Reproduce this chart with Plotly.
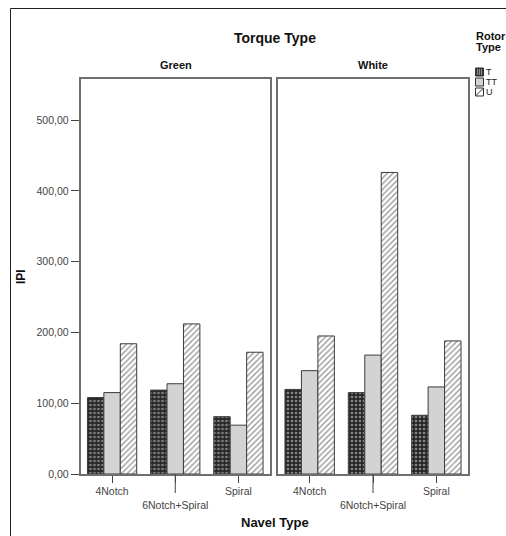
import plotly.graph_objects as go

# ---- data ----
navel_types = ["4Notch", "6Notch+Spiral", "Spiral"]
navel_labels = ["4Notch", "<br>6Notch+Spiral", "Spiral"]
panels = ["Green", "White"]
rotor_types = ["T", "TT", "U"]

green_T = [108, 118.5, 81]
green_TT = [115, 127.5, 69]
green_U = [184, 212, 172]

white_T = [119.5, 115, 83]
white_TT = [146, 168, 123]
white_U = [195, 426, 188]

y_tickvals = [0, 100, 200, 300, 400, 500]
y_ticktext = ["0,00", "100,00", "200,00", "300,00", "400,00", "500,00"]

W, H = 506, 536
def px(x):
    return x / W
def py(y):
    return 1 - y / H

FONT = "Liberation Sans, Arial, sans-serif"
LINE = "#3c3c3c"

styles = {
    "T": dict(color="#262626",
              pattern=dict(shape=".", fgcolor="#e4e4e4", bgcolor="#262626",
                           size=4, solidity=0.35)),
    "TT": dict(color="#d3d3d3"),
    "U": dict(color="white",
              pattern=dict(shape="/", fgcolor="#333333", bgcolor="white",
                           size=4, solidity=0.35)),
}

fig = go.Figure()
series = {
    "Green": [green_T, green_TT, green_U],
    "White": [white_T, white_TT, white_U],
}
for pi, panel in enumerate(panels):
    xa = "x" if pi == 0 else "x2"
    ya = "y" if pi == 0 else "y2"
    for ri, rt in enumerate(rotor_types):
        st = styles[rt]
        marker = dict(color=st["color"], line=dict(color=LINE, width=1))
        if "pattern" in st:
            marker["pattern"] = st["pattern"]
        fig.add_trace(go.Bar(
            x=navel_types, y=series[panel][ri], name=rt,
            marker=marker, xaxis=xa, yaxis=ya, showlegend=False,
            offsetgroup=rt,
        ))

axis_common = dict(showline=True, mirror=True, linecolor="#6e6e6e", linewidth=1.5,
                   showgrid=False, zeroline=False, automargin=False)
xcommon = dict(axis_common, type="category", range=[-0.5, 2.5],
               ticks="outside", ticklen=7, tickcolor="#444", tickwidth=1,
               tickvals=navel_types, ticktext=navel_labels,
               tickfont=dict(family=FONT, size=10.5, color="#444"))
ydom = [py(474), py(79)]
ycommon = dict(axis_common, range=[0, 558], domain=ydom)

fig.update_layout(
    width=W, height=H,
    margin=dict(l=0, r=0, t=0, b=0, pad=0, autoexpand=False),
    paper_bgcolor="white", plot_bgcolor="white",
    barmode="group", bargap=0.22, bargroupgap=0,
    font=dict(family=FONT, size=10, color="#222"),
    xaxis=dict(xcommon, domain=[px(80.5), px(270)], anchor="y"),
    xaxis2=dict(xcommon, domain=[px(278), px(468)], anchor="y2"),
    yaxis=dict(ycommon, anchor="x", ticks="outside", ticklen=8, tickcolor="#444",
               tickvals=y_tickvals, ticktext=y_ticktext,
               tickfont=dict(family=FONT, size=10.5, color="#444")),
    yaxis2=dict(ycommon, anchor="x2", showticklabels=False, ticks=""),
    showlegend=False,
)

shapes = []
# outer frame
shapes.append(dict(type="rect", xref="paper", yref="paper",
                   x0=px(10.5), x1=px(520), y0=py(8.5), y1=py(560),
                   line=dict(color="#222", width=1), fillcolor="rgba(0,0,0,0)",
                   layer="below"))
# longer tick for the staggered middle label
for xa in ["x", "x2"]:
    shapes.append(dict(type="line", xref=xa, yref="paper",
                       x0=navel_types[1], x1=navel_types[1],
                       y0=py(474), y1=py(493), line=dict(color="#444", width=1)))

# manual legend swatches
leg_x0, leg_x1 = 475.5, 483.5
leg_y = [72, 82, 92]
fills = ["#2e2e2e", "#d3d3d3", "white"]
for i, rt in enumerate(rotor_types):
    yc = leg_y[i]
    shapes.append(dict(type="rect", xref="paper", yref="paper",
                       x0=px(leg_x0), x1=px(leg_x1), y0=py(yc + 4), y1=py(yc - 4),
                       line=dict(color="#333", width=1), fillcolor=fills[i]))
    if rt == "U":
        shapes.append(dict(type="line", xref="paper", yref="paper",
                           x0=px(leg_x0), x1=px(leg_x1), y0=py(yc + 4), y1=py(yc - 4),
                           line=dict(color="#333", width=1)))
    if rt == "T":
        for dx in [2, 4, 6]:
            for dy in [-2, 0, 2]:
                shapes.append(dict(type="rect", xref="paper", yref="paper",
                                   x0=px(leg_x0 + dx - 0.6), x1=px(leg_x0 + dx + 0.6),
                                   y0=py(yc + dy + 0.6), y1=py(yc + dy - 0.6),
                                   line=dict(width=0), fillcolor="#cfcfcf"))
fig.update_layout(shapes=shapes)

ann = []
def text(x, y, s, size, bold=False, xanchor="center", angle=0, color="#111"):
    ann.append(dict(x=px(x), y=py(y), xref="paper", yref="paper", text=(f"<b>{s}</b>" if bold else s),
                    showarrow=False, xanchor=xanchor, yanchor="middle", textangle=angle,
                    font=dict(family=FONT, size=size, color=color)))

text(275, 38, "Torque Type", 14, bold=True)
text(176, 65, "Green", 11, bold=True)
text(373, 65, "White", 11, bold=True)
text(275, 522, "Navel Type", 13, bold=True)
text(21, 277, "IPI", 12, bold=True, angle=-90)
text(474, 36, "Rotor", 11, bold=True, xanchor="left")
text(474, 47, "Type", 11, bold=True, xanchor="left")
for i, rt in enumerate(rotor_types):
    text(484, leg_y[i], rt, 9, xanchor="left", color="#222")
fig.update_layout(annotations=ann)

post = """
document.documentElement.style.overflow='hidden';
document.body.style.margin='0';
document.body.style.overflow='hidden';
"""
fig.write_html("out.html", config={"displayModeBar": False}, post_script=post)
